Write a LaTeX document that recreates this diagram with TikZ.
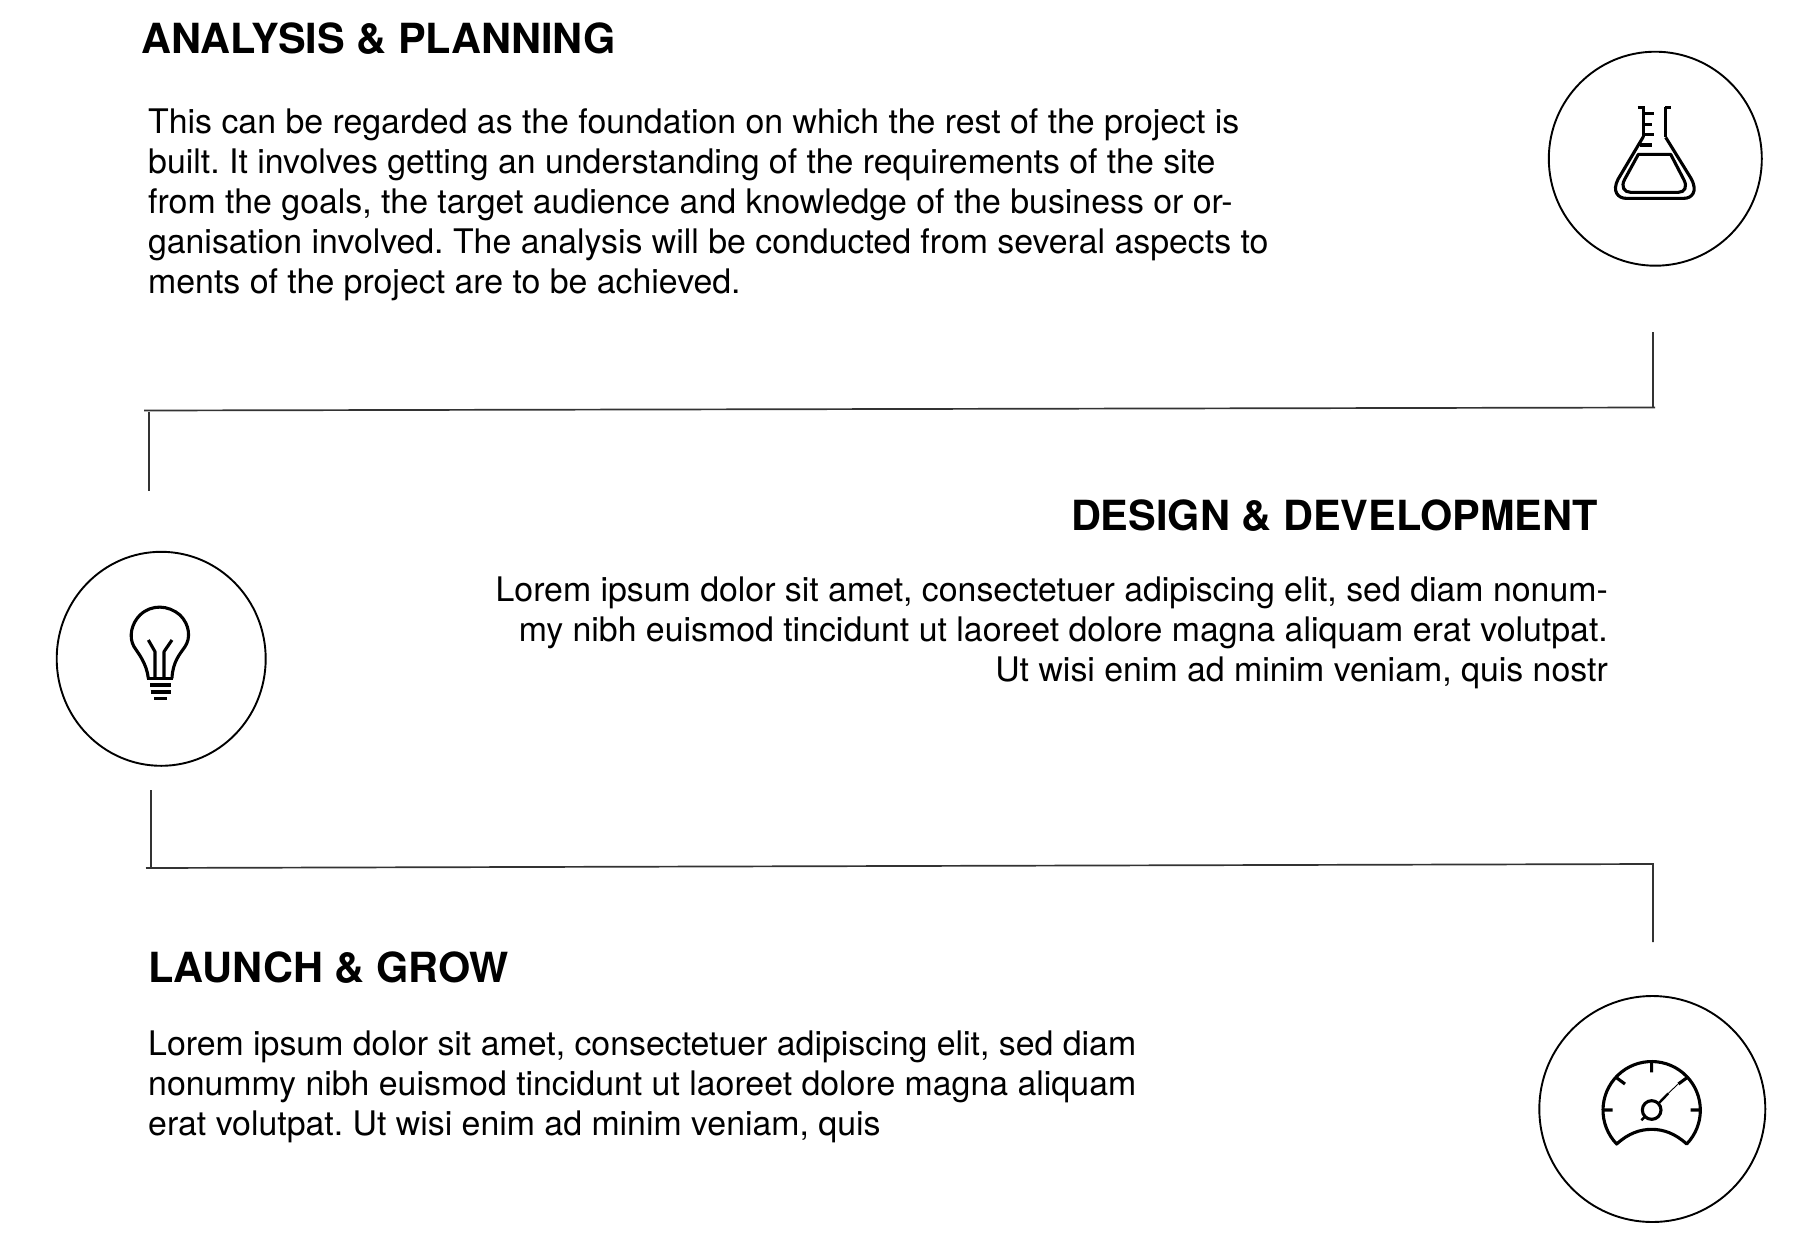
\documentclass[tikz,border=0pt]{standalone}
\usepackage{fontspec}
\setmainfont{TeX Gyre Heros}
\usetikzlibrary{shapes.geometric}
\tikzset{
  headtext/.style={inner sep=0pt,font=\fontsize{41.5}{48}\selectfont\bfseries,text=black},
  bodyleft/.style={inner sep=0pt,align=left,font=\fontsize{33.85}{40}\selectfont\frenchspacing,text=black},
  bodyright/.style={inner sep=0pt,align=right,font=\fontsize{33.85}{40}\selectfont\frenchspacing,text=black},
  ring/.style={draw=black,ellipse,line width=1.9pt,inner sep=0pt},
  rule/.style={draw=black!80,line width=1.7pt},
  iconline/.style={draw=black,line width=3.1pt,line join=round},
  iconthin/.style={draw=black,line width=2.4pt,line join=round}
}
\begin{document}
\begin{tikzpicture}[x=1pt,y=-1pt]
\useasboundingbox (0,0) rectangle (1807,1245);
% headings
\node[headtext,anchor=base west] (h1) at (141,53) {ANALYSIS \& PLANNING};
\node[headtext,anchor=base east] (h2) at (1598,530) {DESIGN \& DEVELOPMENT};
\node[headtext,anchor=base west] (h3) at (148,982) {LAUNCH \& GROW};
% body texts
\node[bodyleft,anchor=north west] (b1) at (148,109) {This can be regarded as the foundation on which the rest of the project is\\built. It involves getting an understanding of the requirements of the site\\from the goals, the target audience and knowledge of the business or or-\\ganisation involved. The analysis will be conducted from several aspects to\\ments of the project are to be achieved.};
\node[bodyright,anchor=north east] (b2) at (1608,577) {Lorem ipsum dolor sit amet, consectetuer adipiscing elit, sed diam nonum-\\my nibh euismod tincidunt ut laoreet dolore magna aliquam erat volutpat.\\Ut wisi enim ad minim veniam, quis nostr};
\node[bodyleft,anchor=north west] (b3) at (148,1031) {Lorem ipsum dolor sit amet, consectetuer adipiscing elit, sed diam\\nonummy nibh euismod tincidunt ut laoreet dolore magna aliquam\\erat volutpat. Ut wisi enim ad minim veniam, quis};
% circles
\node[ring,minimum width=213pt,minimum height=214pt] (c1) at (1655.3,158.7) {};
\node[ring,minimum width=209pt,minimum height=214pt] (c2) at (161.2,658.8) {};
\node[ring,minimum width=226pt,minimum height=226pt] (c3) at (1652.3,1109) {};
% connectors
\coordinate (r1a) at (1653,332);
\coordinate (r1b) at (1655,407.5);
\coordinate (r1c) at (144,410.5);
\coordinate (r1d) at (148.7,412);
\coordinate (r1e) at (148.7,491);
\draw[rule] (r1a) -- (r1a |- r1b);
\draw[rule] (r1b) -- (r1c);
\draw[rule] (r1d) -- (r1e);
\coordinate (r2a) at (150.7,790);
\coordinate (r2b) at (146,868);
\coordinate (r2c) at (1653,864);
\coordinate (r2d) at (1653,942);
\draw[rule] (r2a) -- (r2a |- r2b);
\draw[rule] (r2b) -- (r2c) -- (r2d);
% flask
\begin{scope}[shift={(1500,30)},scale=1/3]
\draw[iconline] (413,232) -- (435,232) (430,232) -- (430,320)
  (430,250) -- (463,250) (430,283) -- (455,283) (430,313) -- (463,313) (420,345) -- (455,345)
  (495,232) -- (513,232) (497,232) -- (497,322);
\draw[iconline] (430,320) -- (354,448) .. controls (335,485) and (355,505) .. (378,505)
  -- (552,505) .. controls (575,505) and (595,485) .. (573,445) -- (497,322);
\draw[iconline] (415,373) -- (512,373) -- (552,450) .. controls (562,470) and (555,487) .. (535,487)
  -- (392,487) .. controls (372,487) and (362,470) .. (374,448) -- cycle;
\end{scope}
% bulb
\begin{scope}[shift={(40,530)},scale=1/3]
\draw[iconline] (325,445) .. controls (320,400) and (295,370) .. (282,350)
  .. controls (265,320) and (275,280) .. (300,255) .. controls (335,222) and (385,225) .. (420,255)
  .. controls (450,285) and (452,325) .. (435,350) .. controls (420,372) and (398,395) .. (396,445);
\draw[iconline] (322,445) -- (398,445);
\draw[iconline] (345,445) -- (345,365) -- (325,330) (372,445) -- (372,365) -- (396,330);
\draw[iconline] (330,465) -- (392,465) (332,486) -- (392,486) (342,505) -- (382,505);
\end{scope}
% gauge
\begin{scope}[shift={(1500,850)},scale=1/3]
\draw[iconline] (350,882) arc[start angle=136,end angle=404,radius=146]
  .. controls (525,850) and (490,838) .. (455,838) .. controls (420,838) and (385,850) .. (350,882) -- cycle;
\draw[iconline] (455,637) -- (455,667) (345,680) -- (375,702) (565,680) -- (535,702)
  (312,780) -- (338,780) (572,780) -- (600,780);
\draw[iconline] (455,780) circle[radius=28];
\draw[iconthin] (476,760) -- (505,730);
\draw[draw=black,line width=0.9pt] (505,730) -- (533,703);
\draw[iconthin] (424,811) -- (436,799);
\end{scope}
\end{tikzpicture}
\end{document}
